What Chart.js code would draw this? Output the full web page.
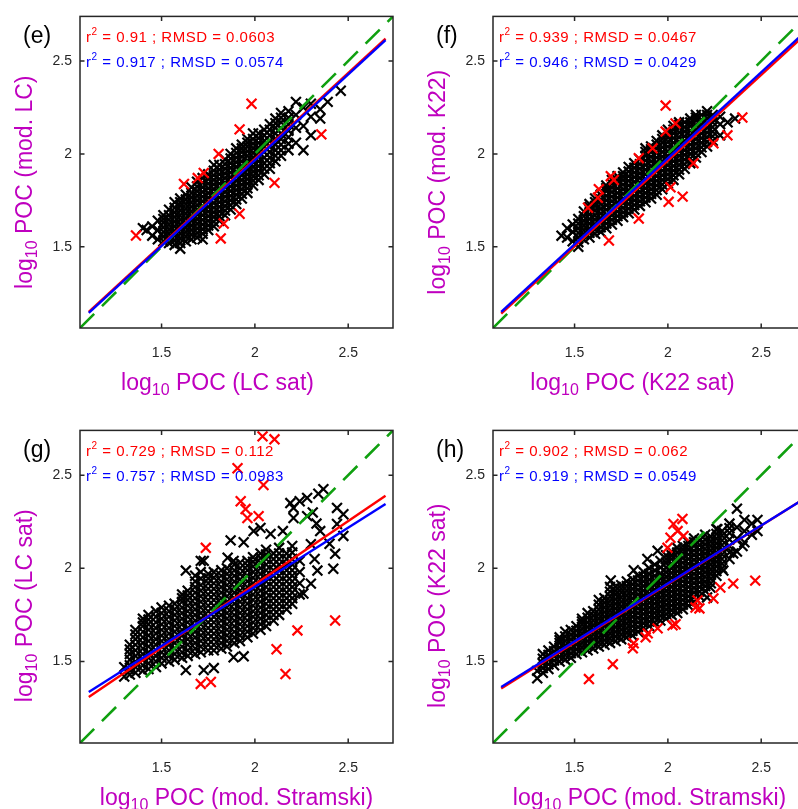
<!DOCTYPE html>
<html>
<head>
<meta charset="utf-8">
<script src="https://cdn.jsdelivr.net/npm/chart.js@4.4.0/dist/chart.umd.min.js"></script>
<style>
html, body { margin: 0; padding: 0; background: #fff; overflow: hidden; }
#wrap { position: relative; width: 798px; height: 809px; overflow: hidden; }
canvas { position: absolute; }
</style>
</head>
<body>
<div id="wrap">
<canvas id="cE" width="413" height="414" style="left:0;top:0"></canvas>
<canvas id="cF" width="413" height="414" style="left:413px;top:0"></canvas>
<canvas id="cG" width="413" height="395" style="left:0;top:414px"></canvas>
<canvas id="cH" width="413" height="395" style="left:413px;top:414px"></canvas>
</div>
<script>
// shared axis settings (log10 POC)
const tickVals = [1.5, 2, 2.5];
const tickLabels = ['1.5', '2', '2.5'];
const axisMin = 1.063, axisMax = 2.74;
const oneToOne = [1.063, 2.74];

// (e) mod. LC vs LC sat
const eStats = [['0.91', '0.0603'], ['0.917', '0.0574']];
const eRedFit = [[1.11, 1.15], [2.70, 2.62]];
const eBlueFit = [[1.11, 1.145], [2.70, 2.612]];
const eRed = [[1.982,2.27],[1.918,2.132],[2.356,2.105],[1.806,2.0],[1.726,1.897],[1.694,1.87],[1.62,1.838],
  [1.363,1.561],[2.105,1.844],[1.918,1.678],[1.833,1.625],[1.817,1.545]];
// black cloud, read column by column: [x, [y values]]
const eBlack = [[1.40,[1.60]],[1.42,[1.59]],[1.45,[1.56,1.61]],[1.48,[1.54,1.59,1.64]],[1.51,[1.53,1.58,1.63,1.67]],
  [1.54,[1.52,1.57,1.62,1.67,1.70]],[1.57,[1.51,1.56,1.61,1.66,1.71,1.74]],[1.60,[1.49,1.52,1.57,1.62,1.67,1.72,1.76]],
  [1.63,[1.53,1.58,1.63,1.68,1.73,1.78]],[1.66,[1.54,1.59,1.64,1.69,1.74,1.79,1.82]],[1.69,[1.55,1.60,1.65,1.70,1.75,1.80,1.85]],
  [1.72,[1.54,1.57,1.62,1.67,1.72,1.77,1.82,1.87]],[1.75,[1.59,1.64,1.69,1.74,1.79,1.84,1.89]],
  [1.78,[1.61,1.66,1.71,1.76,1.81,1.86,1.91,1.94]],[1.81,[1.64,1.69,1.74,1.79,1.84,1.89,1.94]],
  [1.84,[1.67,1.72,1.77,1.82,1.87,1.92,1.97]],[1.87,[1.70,1.75,1.80,1.85,1.90,1.95,2.00]],
  [1.90,[1.73,1.78,1.83,1.88,1.93,1.98,2.03]],[1.93,[1.76,1.81,1.86,1.91,1.96,2.01,2.05]],
  [1.96,[1.79,1.84,1.89,1.94,1.99,2.04,2.08]],[1.99,[1.83,1.88,1.93,1.98,2.03,2.08,2.11]],
  [2.02,[1.86,1.91,1.96,2.01,2.06,2.11]],[2.05,[1.89,1.95,2.01,2.07,2.13]],[2.08,[1.92,1.98,2.04,2.10,2.16]],
  [2.11,[1.96,2.02,2.08,2.14,2.19]],[2.14,[1.99,2.05,2.11,2.17,2.22]],[2.18,[2.02,2.09,2.16,2.23]],
  [2.22,[2.06,2.14,2.21,2.28]],[2.26,[2.02,2.15,2.25]],[2.30,[2.10,2.20,2.27]],[2.35,[2.19,2.24]],
  [2.39,[2.28]],[2.46,[2.34]]];
// dense inner part of the cloud
const eCore = [[1.51,[1.555,1.605,1.65]],[1.54,[1.545,1.595,1.645]],[1.57,[1.535,1.585,1.635,1.685]],
  [1.60,[1.545,1.595,1.645,1.695,1.74]],[1.63,[1.555,1.605,1.655,1.705,1.755]],[1.66,[1.565,1.615,1.665,1.715,1.765]],
  [1.69,[1.575,1.625,1.675,1.725,1.775,1.825]],[1.72,[1.595,1.645,1.695,1.745,1.795,1.845]],
  [1.75,[1.615,1.665,1.715,1.765,1.815,1.865]],[1.78,[1.635,1.685,1.735,1.785,1.835,1.885]],
  [1.81,[1.665,1.715,1.765,1.815,1.865,1.915]],[1.84,[1.695,1.745,1.795,1.845,1.895,1.945]],
  [1.87,[1.725,1.775,1.825,1.875,1.925,1.975]],[1.90,[1.755,1.805,1.855,1.905,1.955,2.005]],
  [1.93,[1.785,1.835,1.885,1.935,1.985,2.03]],[1.96,[1.815,1.865,1.915,1.965,2.015,2.06]],
  [1.99,[1.855,1.905,1.955,2.005,2.055]],[2.02,[1.885,1.935,1.985,2.035,2.085]],[2.05,[1.92,1.98,2.04,2.10]],
  [2.08,[1.95,2.01,2.07,2.13]],[2.11,[1.99,2.05,2.11,2.165]],[2.14,[2.02,2.08,2.14,2.195]],[2.18,[2.055,2.125,2.195]]];

// (f) mod. K22 vs K22 sat
const fStats = [['0.939', '0.0467'], ['0.946', '0.0429']];
const fRedFit = [[1.107, 1.14], [2.70, 2.61]];
const fBlueFit = [[1.107, 1.15], [2.70, 2.625]];
const fRed = [[1.988,2.26],[2.041,2.164],[1.988,2.12],[1.918,2.03],[1.844,1.977],[1.694,1.88],[1.71,1.86],
  [1.63,1.81],[1.625,1.764],[1.572,1.71],[1.844,1.652],[1.684,1.534],[2.137,1.95],[2.014,1.82],[2.004,1.742],
  [2.079,1.77],[2.244,2.057],[2.319,2.10],[2.399,2.196]];
const fBlack = [[1.43,[1.56]],[1.46,[1.55,1.60]],[1.49,[1.53,1.58,1.62]],[1.52,[1.50,1.55,1.60,1.65]],
  [1.55,[1.54,1.59,1.64,1.69]],[1.58,[1.55,1.60,1.65,1.70,1.73]],[1.61,[1.57,1.62,1.67,1.72,1.76]],
  [1.64,[1.58,1.63,1.68,1.73,1.78]],[1.67,[1.60,1.65,1.70,1.75,1.80,1.83]],[1.70,[1.62,1.67,1.72,1.77,1.82,1.86]],
  [1.73,[1.64,1.69,1.74,1.79,1.84,1.88]],[1.76,[1.66,1.71,1.76,1.81,1.86,1.90]],
  [1.79,[1.68,1.73,1.78,1.83,1.88,1.93]],[1.82,[1.70,1.75,1.80,1.85,1.90,1.95]],
  [1.85,[1.72,1.77,1.82,1.87,1.92,1.97]],[1.88,[1.74,1.79,1.84,1.89,1.94,1.99,2.03]],
  [1.91,[1.76,1.81,1.86,1.91,1.96,2.01,2.04]],[1.94,[1.78,1.83,1.88,1.93,1.98,2.03,2.07]],
  [1.97,[1.81,1.86,1.91,1.96,2.01,2.06,2.10]],[2.00,[1.84,1.89,1.94,1.99,2.04,2.09,2.13]],
  [2.03,[1.86,1.91,1.96,2.01,2.06,2.11,2.15]],[2.06,[1.89,1.94,1.99,2.04,2.09,2.14,2.17]],
  [2.09,[1.92,1.97,2.02,2.07,2.12,2.17]],[2.12,[1.95,2.00,2.05,2.10,2.15,2.19]],
  [2.15,[1.98,2.03,2.08,2.13,2.18,2.21]],[2.18,[2.01,2.06,2.11,2.16,2.21]],[2.21,[2.04,2.09,2.14,2.19,2.23]],
  [2.24,[2.07,2.12,2.17,2.21]],[2.28,[2.10,2.16,2.20]],[2.32,[2.17]],[2.36,[2.19]]];
const fCore = [[1.52,[1.525,1.575,1.625]],[1.55,[1.565,1.615,1.665]],[1.58,[1.575,1.625,1.675,1.715]],
  [1.61,[1.595,1.645,1.695,1.74]],[1.64,[1.605,1.655,1.705,1.755]],[1.67,[1.625,1.675,1.725,1.775,1.815]],
  [1.70,[1.645,1.695,1.745,1.795,1.84]],[1.73,[1.665,1.715,1.765,1.815,1.86]],[1.76,[1.685,1.735,1.785,1.835,1.88]],
  [1.79,[1.705,1.755,1.805,1.855,1.905]],[1.82,[1.725,1.775,1.825,1.875,1.925]],[1.85,[1.745,1.795,1.845,1.895,1.945]],
  [1.88,[1.765,1.815,1.865,1.915,1.965,2.01]],[1.91,[1.785,1.835,1.885,1.935,1.985,2.025]],
  [1.94,[1.805,1.855,1.905,1.955,2.005,2.05]],[1.97,[1.835,1.885,1.935,1.985,2.035,2.08]],
  [2.00,[1.865,1.915,1.965,2.015,2.065,2.11]],[2.03,[1.885,1.935,1.985,2.035,2.085,2.13]],
  [2.06,[1.915,1.965,2.015,2.065,2.115,2.155]],[2.09,[1.945,1.995,2.045,2.095,2.145]],
  [2.12,[1.975,2.025,2.075,2.125,2.17]],[2.15,[2.005,2.055,2.105,2.155,2.195]],[2.18,[2.035,2.085,2.135,2.185]],
  [2.21,[2.065,2.115,2.165,2.21]],[2.24,[2.095,2.145,2.19]]];

// (g) LC sat vs mod. Stramski
const gStats = [['0.729', '0.112'], ['0.757', '0.0983']];
const gRedFit = [[1.11, 1.31], [2.70, 2.39]];
const gBlueFit = [[1.11, 1.337], [2.70, 2.345]];
const gRed = [[2.041,2.708],[2.105,2.692],[1.907,2.537],[2.046,2.447],[1.924,2.36],[1.95,2.318],[1.96,2.27],
  [2.02,2.28],[1.737,2.11],[2.43,1.72],[2.228,1.667],[2.116,1.566],[2.164,1.433],[1.71,1.38],[1.764,1.39]];
const gBlack = [[1.30,[1.42,1.47]],[1.33,[1.43,1.48,1.54,1.59]],[1.36,[1.44,1.50,1.56,1.62,1.67]],
  [1.40,[1.45,1.51,1.57,1.63,1.69,1.73]],[1.43,[1.46,1.52,1.58,1.64,1.70,1.75]],
  [1.47,[1.47,1.53,1.59,1.65,1.71,1.77]],[1.50,[1.49,1.55,1.61,1.67,1.73,1.79]],
  [1.54,[1.50,1.56,1.62,1.68,1.74,1.80]],[1.57,[1.51,1.57,1.63,1.69,1.75,1.81]],
  [1.61,[1.52,1.58,1.64,1.70,1.76,1.82,1.86]],[1.64,[1.53,1.59,1.65,1.71,1.77,1.83,1.88]],
  [1.68,[1.54,1.60,1.66,1.72,1.78,1.84,1.90,1.96]],[1.71,[1.55,1.61,1.67,1.73,1.79,1.85,1.91,1.98,2.04]],
  [1.75,[1.56,1.62,1.68,1.74,1.80,1.86,1.92,1.97]],[1.78,[1.56,1.62,1.68,1.74,1.80,1.86,1.92,1.98]],
  [1.82,[1.57,1.63,1.69,1.75,1.81,1.87,1.93,1.99]],[1.85,[1.58,1.64,1.70,1.76,1.82,1.88,1.94,2.00]],
  [1.89,[1.60,1.66,1.72,1.78,1.84,1.90,1.96,2.02]],[1.92,[1.61,1.67,1.73,1.79,1.85,1.91,1.97,2.03]],
  [1.96,[1.63,1.69,1.75,1.81,1.87,1.93,1.99,2.04]],[1.99,[1.65,1.71,1.77,1.83,1.89,1.95,2.01,2.06]],
  [2.03,[1.67,1.73,1.79,1.85,1.91,1.97,2.03,2.08]],[2.06,[1.69,1.75,1.81,1.87,1.93,1.99,2.05,2.10]],
  [2.10,[1.72,1.78,1.84,1.90,1.96,2.02,2.08]],[2.13,[1.75,1.81,1.87,1.93,1.99,2.05,2.11]],
  [2.17,[1.78,1.84,1.90,1.96,2.02,2.08]],[2.20,[1.81,1.87,1.93,1.99,2.05,2.12]],[2.24,[1.86,1.92,1.98,2.04]],
  [1.63,[1.454,1.988]],[1.726,[1.454,2.04]],[1.78,[1.465]],[1.886,[1.523,2.04]],[1.94,[1.528,2.14]],
  [2.335,[1.988]],[2.42,[1.998]],[2.43,[2.078]],[2.40,[2.132]],[2.474,[2.174,2.29]],[2.44,[2.238,2.324]],
  [2.367,[2.425]],[2.34,[2.40]],[2.28,[2.28,2.378]],[2.207,[2.27,2.324]],[2.19,[2.35]],[2.084,[2.185]],
  [2.03,[2.217]],[1.993,[2.20]],[1.87,[2.15]],[1.854,[2.057]],[2.26,[1.865]],[2.30,[1.918,2.13]],
  [2.32,[2.05]],[2.15,[2.2]],[2.35,[2.2]],[2.24,[2.36]],[2.31,[2.30]],[2.33,[2.24]]];
const gCore = [[1.33,[1.455,1.51,1.565]],[1.36,[1.47,1.53,1.59,1.645]],[1.40,[1.48,1.54,1.60,1.66,1.71]],
  [1.43,[1.49,1.55,1.61,1.67,1.725]],[1.47,[1.50,1.56,1.62,1.68,1.74]],[1.50,[1.52,1.58,1.64,1.70,1.76]],
  [1.54,[1.53,1.59,1.65,1.71,1.77]],[1.57,[1.54,1.60,1.66,1.72,1.78]],[1.61,[1.55,1.61,1.67,1.73,1.79,1.84]],
  [1.64,[1.56,1.62,1.68,1.74,1.80,1.855]],[1.68,[1.57,1.63,1.69,1.75,1.81,1.87,1.93]],
  [1.71,[1.58,1.64,1.70,1.76,1.82,1.88,1.945]],[1.75,[1.59,1.65,1.71,1.77,1.83,1.89,1.945]],
  [1.78,[1.59,1.65,1.71,1.77,1.83,1.89,1.95]],[1.82,[1.60,1.66,1.72,1.78,1.84,1.90,1.96]],
  [1.85,[1.61,1.67,1.73,1.79,1.85,1.91,1.97]],[1.89,[1.63,1.69,1.75,1.81,1.87,1.93,1.99]],
  [1.92,[1.64,1.70,1.76,1.82,1.88,1.94,2.00]],[1.96,[1.66,1.72,1.78,1.84,1.90,1.96,2.015]],
  [1.99,[1.68,1.74,1.80,1.86,1.92,1.98,2.035]],[2.03,[1.70,1.76,1.82,1.88,1.94,2.00,2.055]],
  [2.06,[1.72,1.78,1.84,1.90,1.96,2.02,2.075]],[2.10,[1.75,1.81,1.87,1.93,1.99,2.05]],
  [2.13,[1.78,1.84,1.90,1.96,2.02,2.08]],[2.17,[1.81,1.87,1.93,1.99,2.05]],[2.20,[1.84,1.90,1.96,2.02,2.085]]];

// (h) K22 sat vs mod. Stramski
const hStats = [['0.902', '0.062'], ['0.919', '0.0549']];
const hRedFit = [[1.107, 1.355], [2.70, 2.355]];
const hBlueFit = [[1.107, 1.363], [2.70, 2.355]];
const hRed = [[2.03,2.238],[2.078,2.265],[2.052,2.20],[2.014,2.164],[2.084,2.174],[1.998,2.11],[2.159,1.828],
  [2.148,1.79],[2.169,1.785],[2.244,1.838],[2.281,1.897],[2.35,1.918],[2.468,1.934],[2.025,1.694],[2.041,1.70],
  [1.945,1.678],[1.892,1.651],[1.881,1.63],[1.817,1.598],[1.812,1.571],[1.705,1.486],[1.577,1.406]];
const hBlack = [[1.30,[1.41,1.45]],[1.33,[1.44,1.49,1.54]],[1.36,[1.46,1.51,1.56]],[1.39,[1.48,1.53,1.58]],
  [1.42,[1.50,1.55,1.60,1.63]],[1.45,[1.51,1.56,1.61,1.66]],[1.48,[1.52,1.57,1.62,1.67]],
  [1.51,[1.54,1.59,1.64,1.69]],[1.54,[1.55,1.60,1.65,1.70,1.73]],[1.57,[1.56,1.61,1.66,1.71,1.76]],
  [1.60,[1.57,1.62,1.67,1.72,1.77]],[1.63,[1.58,1.63,1.68,1.73,1.78,1.83]],[1.66,[1.59,1.64,1.69,1.74,1.79,1.84]],
  [1.69,[1.60,1.65,1.70,1.75,1.80,1.85,1.90]],[1.72,[1.61,1.66,1.71,1.76,1.81,1.86,1.90]],
  [1.75,[1.62,1.67,1.72,1.77,1.82,1.87,1.91]],[1.78,[1.63,1.68,1.73,1.78,1.83,1.88,1.93]],
  [1.81,[1.64,1.69,1.74,1.79,1.84,1.89,1.94]],[1.84,[1.66,1.71,1.76,1.81,1.86,1.91,1.96]],
  [1.87,[1.68,1.73,1.78,1.83,1.88,1.93,1.98]],[1.90,[1.69,1.74,1.79,1.84,1.89,1.94,2.00]],
  [1.93,[1.71,1.76,1.81,1.86,1.91,1.96,2.02]],[1.96,[1.72,1.77,1.82,1.87,1.92,1.97,2.04]],
  [1.99,[1.73,1.78,1.83,1.88,1.93,1.98,2.03,2.07]],[2.02,[1.75,1.80,1.85,1.90,1.95,2.00,2.05,2.09]],
  [2.05,[1.76,1.81,1.86,1.91,1.96,2.01,2.06,2.11]],[2.08,[1.78,1.83,1.88,1.93,1.98,2.03,2.08,2.12]],
  [2.11,[1.80,1.85,1.90,1.95,2.00,2.05,2.10,2.14]],[2.14,[1.82,1.87,1.92,1.97,2.02,2.07,2.12,2.16]],
  [2.17,[1.85,1.90,1.95,2.00,2.05,2.10,2.15]],[2.20,[1.88,1.93,1.98,2.03,2.08,2.13,2.18]],
  [2.23,[1.92,1.97,2.02,2.07,2.12,2.17]],[2.26,[1.96,2.01,2.06,2.11,2.16,2.21]],
  [2.29,[2.00,2.05,2.10,2.15,2.20]],[2.33,[2.05,2.12,2.19,2.24]],[2.37,[2.09,2.16,2.22,2.32]],
  [2.41,[2.14,2.20,2.26]],[2.45,[2.18,2.24]],[2.48,[2.20,2.26]],
  [1.694,[1.935]],[1.817,[1.99]],[1.89,[2.05]],[1.945,[2.094]],[2.265,[2.21]],[2.228,[1.897]],
  [2.297,[1.988]],[2.21,[1.844]],[2.35,[2.08]],[2.40,[2.12]]];
const hCore = [[1.33,[1.465,1.515]],[1.36,[1.485,1.535]],[1.39,[1.505,1.555]],[1.42,[1.525,1.575,1.615]],
  [1.45,[1.535,1.585,1.635]],[1.48,[1.545,1.595,1.645]],[1.51,[1.565,1.615,1.665]],[1.54,[1.575,1.625,1.675,1.715]],
  [1.57,[1.585,1.635,1.685,1.735]],[1.60,[1.595,1.645,1.695,1.745]],[1.63,[1.605,1.655,1.705,1.755,1.805]],
  [1.66,[1.615,1.665,1.715,1.765,1.815]],[1.69,[1.625,1.675,1.725,1.775,1.825,1.875]],
  [1.72,[1.635,1.685,1.735,1.785,1.835,1.88]],[1.75,[1.645,1.695,1.745,1.795,1.845,1.89]],
  [1.78,[1.655,1.705,1.755,1.805,1.855,1.905]],[1.81,[1.665,1.715,1.765,1.815,1.865,1.915]],
  [1.84,[1.685,1.735,1.785,1.835,1.885,1.935]],[1.87,[1.705,1.755,1.805,1.855,1.905,1.955]],
  [1.90,[1.715,1.765,1.815,1.865,1.915,1.97]],[1.93,[1.735,1.785,1.835,1.885,1.935,1.99]],
  [1.96,[1.745,1.795,1.845,1.895,1.945,2.005]],[1.99,[1.755,1.805,1.855,1.905,1.955,2.005,2.05]],
  [2.02,[1.775,1.825,1.875,1.925,1.975,2.025,2.07]],[2.05,[1.785,1.835,1.885,1.935,1.985,2.035,2.085]],
  [2.08,[1.805,1.855,1.905,1.955,2.005,2.055,2.10]],[2.11,[1.825,1.875,1.925,1.975,2.025,2.075,2.12]],
  [2.14,[1.845,1.895,1.945,1.995,2.045,2.095,2.14]],[2.17,[1.875,1.925,1.975,2.025,2.075,2.125]],
  [2.20,[1.905,1.955,2.005,2.055,2.105,2.155]],[2.23,[1.945,1.995,2.045,2.095,2.145]],
  [2.26,[1.985,2.035,2.085,2.135,2.185]],[2.29,[2.025,2.075,2.125,2.175]],[2.33,[2.085,2.155,2.215]]];

const panels = [
  { id: 'cE', tag: '(e)', top: 14, yTitle: ' POC (mod. LC)', xTitle: ' POC (LC sat)', xShift: -19, yShift: 10,
    stats: eStats, redFit: eRedFit, blueFit: eBlueFit, red: eRed, black: eBlack.concat(eCore) },
  { id: 'cF', tag: '(f)', top: 14, yTitle: ' POC (mod. K22)', xTitle: ' POC (K22 sat)', xShift: -17, yShift: 10,
    stats: fStats, redFit: fRedFit, blueFit: fBlueFit, red: fRed, black: fBlack.concat(fCore) },
  { id: 'cG', tag: '(g)', top: 15, yTitle: ' POC (LC sat)', xTitle: ' POC (mod. Stramski)', xShift: 0, yShift: 19,
    stats: gStats, redFit: gRedFit, blueFit: gBlueFit, red: gRed, black: gBlack.concat(gCore) },
  { id: 'cH', tag: '(h)', top: 15, yTitle: ' POC (K22 sat)', xTitle: ' POC (mod. Stramski)', xShift: 0, yShift: 19,
    stats: hStats, redFit: hRedFit, blueFit: hBlueFit, red: hRed, black: hBlack.concat(hCore) }
];

const FONT = '"Liberation Sans", Arial, sans-serif';
const MAG = '#bf00bf';

function richWidth(ctx, parts) {
  let w = 0;
  parts.forEach(function (p) { ctx.font = p[1] + 'px ' + FONT; w += ctx.measureText(p[0]).width; });
  return w;
}
function drawRich(ctx, parts, x, y) {
  parts.forEach(function (p) {
    ctx.font = p[1] + 'px ' + FONT;
    ctx.fillText(p[0], x, y + p[2]);
    x += ctx.measureText(p[0]).width;
  });
}

function toPts(list) { return list.map(function (d) { return { x: d[0], y: d[1] }; }); }
function cloud(cols) {
  let out = [];
  cols.forEach(function (c) { c[1].forEach(function (v) { out.push({ x: c[0], y: v }); }); });
  return out;
}

function makePanel(p) {
  const canvas = document.getElementById(p.id);
  const xH = canvas.height - (p.top + 314);
  const decor = {
    id: 'decor',
    afterDraw(chart) {
      const ctx = chart.ctx, a = chart.chartArea;
      const sx = chart.scales.x, sy = chart.scales.y;
      ctx.save();
      ctx.strokeStyle = '#262626';
      ctx.lineWidth = 1.5;
      ctx.strokeRect(a.left, a.top, a.right - a.left, a.bottom - a.top);
      ctx.beginPath();
      tickVals.forEach(function (v) {
        const px = sx.getPixelForValue(v), py = sy.getPixelForValue(v);
        ctx.moveTo(px, a.bottom); ctx.lineTo(px, a.bottom - 4.5);
        ctx.moveTo(px, a.top); ctx.lineTo(px, a.top + 4.5);
        ctx.moveTo(a.left, py); ctx.lineTo(a.left + 4.5, py);
        ctx.moveTo(a.right, py); ctx.lineTo(a.right - 4.5, py);
      });
      ctx.stroke();

      // r2 / RMSD lines
      ctx.letterSpacing = '0.5px';
      ctx.textAlign = 'left';
      ctx.textBaseline = 'alphabetic';
      ['#ff0000', '#0000ff'].forEach(function (col, i) {
        ctx.fillStyle = col;
        drawRich(ctx, [['r', 15, 0], ['2', 10, -7],
          [' = ' + p.stats[i][0] + ' ; RMSD = ' + p.stats[i][1], 15, 0]], a.left + 6, a.top + 26 + i * 24.5);
      });
      ctx.letterSpacing = '0px';

      // panel tag
      ctx.fillStyle = '#000';
      ctx.font = '23px ' + FONT;
      ctx.fillText(p.tag, a.left - 57, a.top + 27);

      // axis titles
      ctx.fillStyle = MAG;
      const xt = [['log', 23, 0], ['10', 16, 5], [p.xTitle, 23, 0]];
      const wx = richWidth(ctx, xt);
      drawRich(ctx, xt, (a.left + a.right) / 2 + p.xShift - wx / 2, a.bottom + 62);
      const yt = [['log', 23, 0], ['10', 16, 5], [p.yTitle, 23, 0]];
      const wy = richWidth(ctx, yt);
      ctx.translate(a.left - 48, (a.top + a.bottom) / 2 + p.yShift);
      ctx.rotate(-Math.PI / 2);
      drawRich(ctx, yt, -wy / 2, 0);
      ctx.restore();
    }
  };

  const tickOpts = {
    font: { family: 'Liberation Sans', size: 14 },
    color: '#262626',
    callback: function (v) { const i = tickVals.indexOf(v); return i >= 0 ? tickLabels[i] : ''; }
  };
  const setTicks = function (s) { s.ticks = tickVals.map(function (v) { return { value: v }; }); };

  new Chart(canvas, {
    type: 'scatter',
    data: {
      datasets: [
        { data: toPts(p.blueFit), showLine: true, borderColor: '#0000ff', borderWidth: 2.4, pointRadius: 0, order: 1 },
        { data: toPts(p.redFit), showLine: true, borderColor: '#ff0000', borderWidth: 2.4, pointRadius: 0, order: 2 },
        { data: [{ x: oneToOne[0], y: oneToOne[0] }, { x: oneToOne[1], y: oneToOne[1] }], showLine: true,
          borderColor: '#10a010', borderWidth: 2.6, borderDash: [20, 11], pointRadius: 0, order: 3 },
        { data: toPts(p.red), pointStyle: 'crossRot', pointRadius: 7, borderColor: '#ff0000',
          backgroundColor: '#ff0000', pointBorderWidth: 2.2, order: 4 },
        { data: cloud(p.black), pointStyle: 'crossRot', pointRadius: 7, borderColor: '#000',
          backgroundColor: '#000', pointBorderWidth: 2.2, order: 5 }
      ]
    },
    options: {
      responsive: false,
      animation: false,
      events: [],
      layout: { padding: { left: 0, top: p.top, right: 20, bottom: 0 } },
      plugins: { legend: { display: false }, tooltip: { enabled: false } },
      scales: {
        x: {
          type: 'linear', min: axisMin, max: axisMax,
          grid: { display: false, drawTicks: false }, border: { display: false },
          ticks: Object.assign({ padding: 17 }, tickOpts),
          afterBuildTicks: setTicks,
          afterFit: function (s) { s.height = xH; }
        },
        y: {
          type: 'linear', min: axisMin, max: axisMax,
          grid: { display: false, drawTicks: false }, border: { display: false },
          ticks: Object.assign({ padding: 8 }, tickOpts),
          afterBuildTicks: setTicks,
          afterFit: function (s) { s.width = 80; }
        }
      }
    },
    plugins: [decor]
  });
}

panels.forEach(makePanel);
</script>
</body>
</html>
